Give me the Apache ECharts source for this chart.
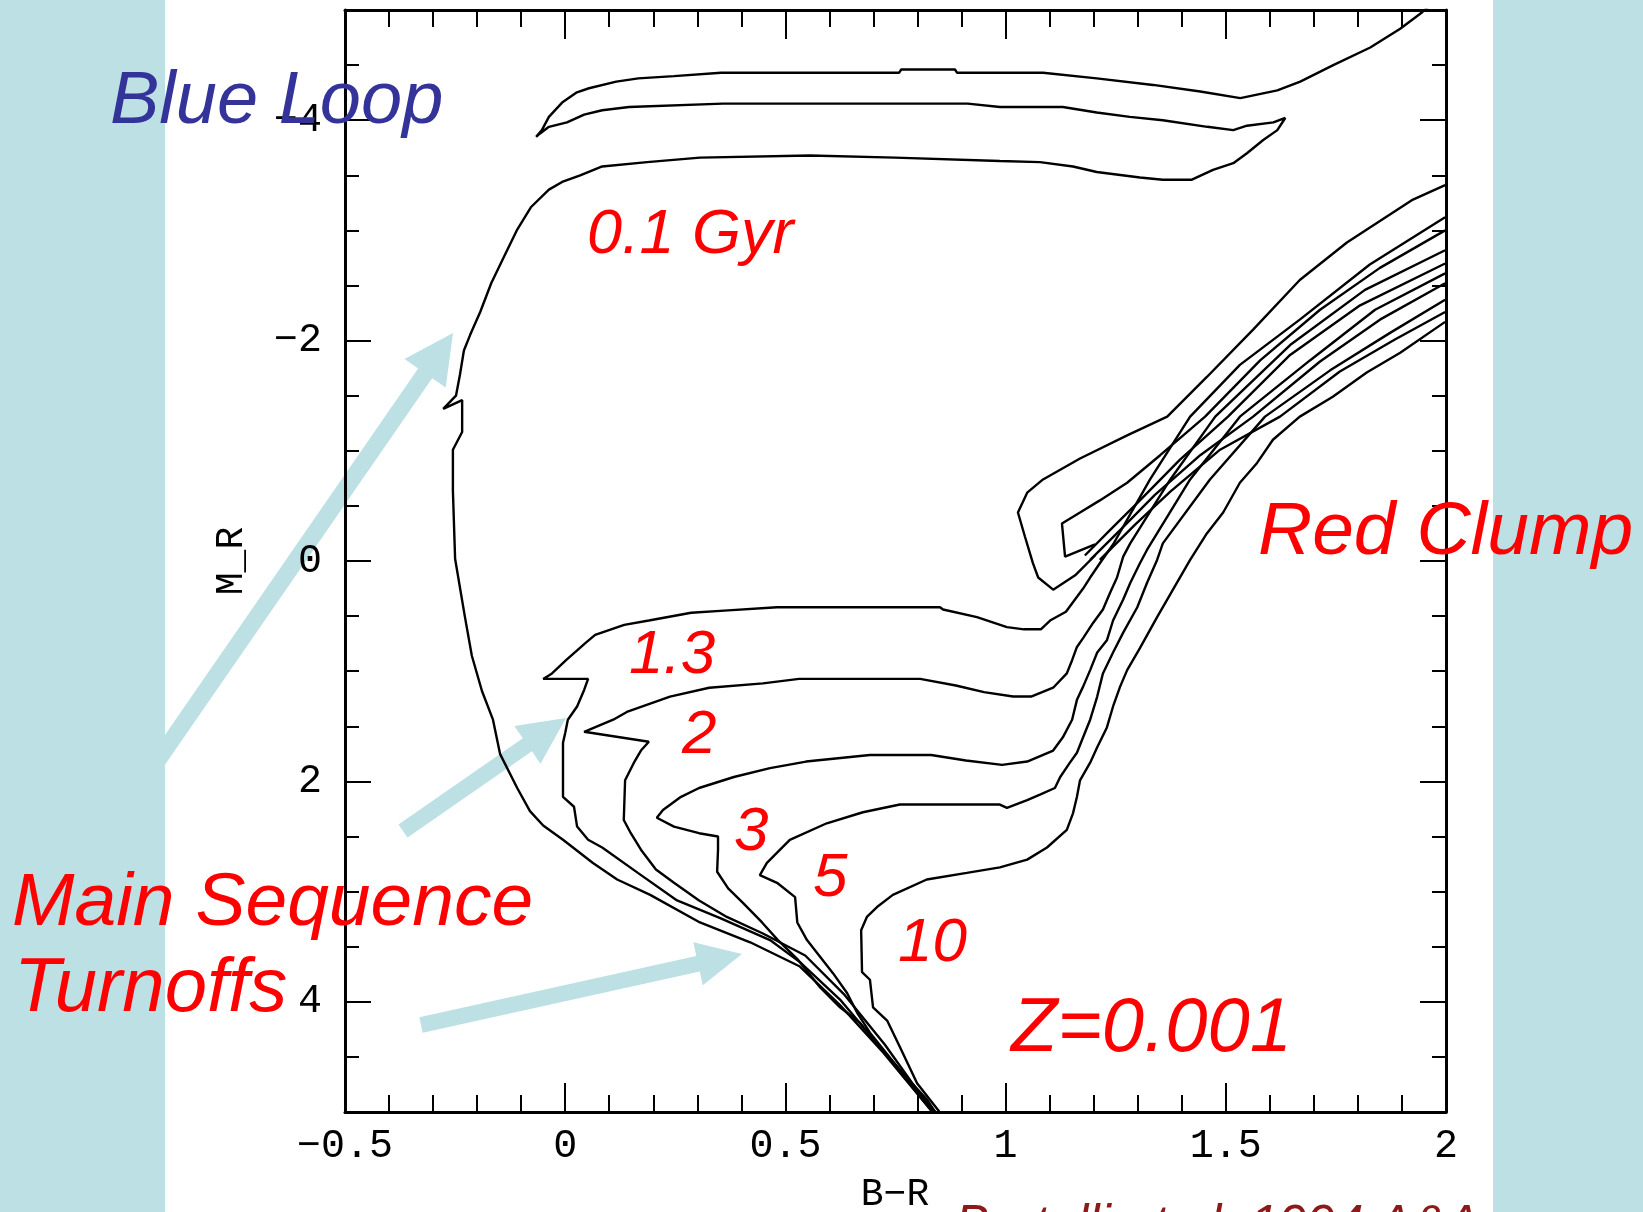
<!DOCTYPE html>
<html><head><meta charset="utf-8">
<script src="https://cdn.jsdelivr.net/npm/echarts@6/dist/echarts.min.js"></script>
<style>html,body{margin:0;padding:0;background:#bce0e3}#c{width:1643px;height:1212px}</style>
</head><body><div id="c"></div>
<script>
// ---- data (B-R colour, M_R magnitude) ----
const ages = ['0.1 Gyr', '1.3', '2', '3', '5', '10'];
const xTickValues = [-0.5, 0, 0.5, 1, 1.5, 2];
const yTickValues = [-4, -2, 0, 2, 4];

const iso01 = [[0.84,5.03],[0.722,4.46],[0.624,4.03],[0.533,3.68],[0.42,3.46],[0.306,3.28],[0.193,3.03],[0.118,2.89],[0.063,2.74],[-0.005,2.53],[-0.05,2.40],[-0.08,2.27],[-0.109,2.06],[-0.148,1.75],[-0.164,1.44],[-0.189,1.18],[-0.212,0.86],[-0.228,0.50],[-0.25,-0.02],[-0.255,-0.64],[-0.255,-1.01],[-0.234,-1.17],[-0.234,-1.46],[-0.277,-1.38],[-0.248,-1.50],[-0.239,-1.69],[-0.23,-1.91],[-0.216,-2.05],[-0.193,-2.26],[-0.168,-2.52],[-0.139,-2.76],[-0.11,-3.0],[-0.078,-3.21],[-0.037,-3.37],[-0.007,-3.44],[0.034,-3.50],[0.084,-3.58],[0.186,-3.62],[0.306,-3.66],[0.556,-3.68],[0.749,-3.66],[0.987,-3.63],[1.078,-3.62],[1.153,-3.58],[1.207,-3.53],[1.305,-3.48],[1.357,-3.46],[1.423,-3.46],[1.471,-3.55],[1.517,-3.61],[1.548,-3.70],[1.585,-3.82],[1.617,-3.91],[1.635,-4.02],[1.608,-3.98],[1.548,-3.95],[1.517,-3.91],[1.458,-3.94],[1.357,-4.0],[1.282,-4.03],[1.207,-4.07],[1.13,-4.12],[0.987,-4.12],[0.914,-4.15],[0.358,-4.15],[0.145,-4.12],[0.084,-4.09],[0.043,-4.05],[0.004,-3.98],[-0.037,-3.94],[-0.057,-3.88],[-0.066,-3.85],[-0.053,-3.91],[-0.037,-4.03],[-0.007,-4.16],[0.025,-4.25],[0.054,-4.29],[0.116,-4.35],[0.166,-4.38],[0.247,-4.40],[0.354,-4.43],[0.758,-4.43],[0.763,-4.46],[0.885,-4.46],[0.89,-4.43],[1.085,-4.43],[1.207,-4.38],[1.335,-4.32],[1.442,-4.26],[1.533,-4.20],[1.617,-4.27],[1.669,-4.35],[1.744,-4.50],[1.828,-4.66],[1.896,-4.83],[1.946,-4.98],[1.968,-5.06]];

const iso13 = [[0.84,5.03],[0.721,4.44],[0.624,3.98],[0.533,3.64],[0.465,3.44],[0.352,3.24],[0.254,3.08],[0.165,2.83],[0.084,2.60],[0.052,2.53],[0.027,2.41],[0.02,2.23],[-0.005,2.14],[-0.005,1.65],[0.0,1.56],[0.006,1.44],[0.027,1.32],[0.043,1.17],[0.052,1.07],[-0.05,1.07],[-0.03,1.02],[0.002,0.90],[0.047,0.74],[0.068,0.67],[0.134,0.58],[0.19,0.54],[0.286,0.47],[0.361,0.45],[0.481,0.42],[0.708,0.42],[0.851,0.42],[0.858,0.44],[0.935,0.51],[1.003,0.60],[1.042,0.62],[1.08,0.62],[1.101,0.54],[1.137,0.46],[1.176,0.25],[1.192,0.15],[1.214,0.02],[1.23,-0.07],[1.244,-0.15],[1.328,-0.74],[1.419,-1.31],[1.532,-1.78],[1.668,-2.19],[1.827,-2.69],[1.998,-3.12]];
const clump13 = [[1.203,-0.05],[1.158,0.13],[1.108,0.26],[1.074,0.15],[1.062,0.02],[1.044,-0.22],[1.028,-0.44],[1.049,-0.62],[1.085,-0.74],[1.169,-0.93],[1.276,-1.14],[1.367,-1.31],[1.457,-1.67],[1.562,-2.10],[1.668,-2.55],[1.775,-2.89],[1.925,-3.28],[1.998,-3.41]];

const iso2 = [[0.84,5.03],[0.726,4.39],[0.635,3.94],[0.545,3.58],[0.449,3.38],[0.367,3.23],[0.304,3.08],[0.247,2.92],[0.206,2.80],[0.172,2.62],[0.149,2.47],[0.133,2.35],[0.136,1.99],[0.156,1.83],[0.172,1.72],[0.19,1.64],[0.043,1.55],[0.109,1.44],[0.14,1.37],[0.238,1.23],[0.327,1.15],[0.449,1.11],[0.531,1.07],[0.806,1.07],[0.887,1.13],[0.951,1.19],[1.017,1.23],[1.058,1.23],[1.108,1.15],[1.139,1.02],[1.151,0.90],[1.162,0.78],[1.176,0.70],[1.199,0.56],[1.221,0.44],[1.237,0.29],[1.253,0.15],[1.267,-0.04],[1.283,-0.16],[1.374,-0.74],[1.476,-1.31],[1.646,-1.96],[1.816,-2.46],[1.998,-2.82]];
const clump2 = [[1.203,-0.15],[1.135,-0.04],[1.128,-0.34],[1.169,-0.44],[1.214,-0.55],[1.276,-0.71],[1.351,-0.96],[1.453,-1.31],[1.578,-1.82],[1.714,-2.28],[1.85,-2.66],[1.998,-3.0]];

const iso3 = [[0.845,5.03],[0.822,4.89],[0.76,4.62],[0.715,4.41],[0.669,4.19],[0.624,4.05],[0.579,3.87],[0.529,3.62],[0.483,3.44],[0.447,3.28],[0.403,3.10],[0.37,2.97],[0.345,2.82],[0.347,2.62],[0.347,2.50],[0.304,2.47],[0.247,2.41],[0.208,2.33],[0.222,2.26],[0.263,2.14],[0.304,2.06],[0.383,1.96],[0.465,1.88],[0.547,1.82],[0.692,1.76],[0.831,1.76],[0.91,1.81],[0.992,1.85],[1.049,1.82],[1.108,1.72],[1.13,1.60],[1.151,1.44],[1.162,1.26],[1.176,1.14],[1.192,0.99],[1.208,0.83],[1.23,0.72],[1.244,0.54],[1.267,0.35],[1.283,0.20],[1.305,0.02],[1.321,-0.10],[1.419,-0.74],[1.532,-1.31],[1.691,-1.82],[1.839,-2.28],[1.998,-2.61]];
const clump3 = [[1.18,-0.05],[1.237,-0.28],[1.305,-0.55],[1.396,-0.92],[1.505,-1.31],[1.646,-1.87],[1.805,-2.32],[1.998,-2.70]];

const iso5 = [[0.847,5.03],[0.783,4.73],[0.738,4.51],[0.692,4.28],[0.663,4.10],[0.64,3.92],[0.608,3.74],[0.549,3.44],[0.527,3.28],[0.522,3.05],[0.481,2.92],[0.442,2.85],[0.458,2.74],[0.51,2.53],[0.594,2.38],[0.676,2.28],[0.76,2.21],[0.987,2.21],[1.003,2.24],[1.049,2.17],[1.078,2.12],[1.112,2.06],[1.124,1.96],[1.146,1.83],[1.162,1.74],[1.176,1.60],[1.192,1.44],[1.208,1.23],[1.221,1.02],[1.244,0.83],[1.267,0.65],[1.299,0.42],[1.321,0.20],[1.344,-0.01],[1.357,-0.16],[1.464,-0.74],[1.589,-1.31],[1.737,-1.73],[1.873,-2.07],[1.998,-2.37]];
const clump5 = [[1.192,-0.01],[1.26,-0.28],[1.339,-0.60],[1.442,-0.96],[1.562,-1.31],[1.714,-1.81],[1.85,-2.19],[1.998,-2.52]];

const iso10 = [[0.856,5.03],[0.799,4.74],[0.76,4.41],[0.731,4.17],[0.699,4.05],[0.692,3.80],[0.674,3.73],[0.672,3.35],[0.685,3.23],[0.708,3.14],[0.744,3.03],[0.821,2.89],[0.912,2.83],[0.987,2.78],[1.049,2.71],[1.094,2.60],[1.139,2.44],[1.153,2.29],[1.162,2.14],[1.169,1.99],[1.192,1.83],[1.208,1.69],[1.23,1.51],[1.244,1.32],[1.26,1.14],[1.276,0.99],[1.305,0.79],[1.344,0.51],[1.38,0.26],[1.419,-0.01],[1.457,-0.25],[1.494,-0.44],[1.532,-0.71],[1.571,-0.89],[1.607,-1.10],[1.668,-1.31],[1.743,-1.49],[1.82,-1.71],[1.896,-1.89],[1.998,-2.17]];
const clump10 = [[1.214,-0.01],[1.294,-0.33],[1.374,-0.63],[1.487,-1.01],[1.623,-1.31],[1.759,-1.72],[1.884,-2.01],[1.998,-2.26]];

const tracks = [iso01, iso13, clump13, iso2, clump2, iso3, clump3, iso5, clump5, iso10, clump10];

// ---- chart ----
const chart = echarts.init(document.getElementById('c'), null, {renderer: 'canvas'});
const tickFont = {fontFamily: 'Liberation Mono', fontSize: 40, color: '#000'};
const minus = v => (v < 0 ? '\u2212' + String(-v) : String(v));

function xAx(pos, labels) {
  return {
    type: 'value', position: pos, min: -0.5, max: 2, interval: 0.5,
    axisLine: {show: true, onZero: false, lineStyle: {color: '#000', width: 3}},
    axisTick: {show: true, inside: true, length: 29, lineStyle: {color: '#000', width: 2}},
    minorTick: {show: true, splitNumber: 5, length: 17, lineStyle: {color: '#000', width: 2}},
    axisLabel: labels ? Object.assign({show: true, margin: 14, formatter: minus}, tickFont) : {show: false},
    splitLine: {show: false}, minorSplitLine: {show: false}
  };
}
function yShort(pos) {
  return {
    type: 'value', position: pos, min: -5, max: 5, interval: 0.5, inverse: true,
    axisLine: {show: true, onZero: false, lineStyle: {color: '#000', width: 3}},
    axisTick: {show: true, inside: true, length: 14, lineStyle: {color: '#000', width: 2}},
    axisLabel: {show: false}, splitLine: {show: false}
  };
}
function yLong(pos, labels) {
  return {
    type: 'value', position: pos, min: -5, max: 5, interval: 0.5, inverse: true,
    axisLine: {show: false, onZero: false},
    axisTick: {show: true, inside: true, length: 26, customValues: yTickValues, lineStyle: {color: '#000', width: 2}},
    axisLabel: labels ? Object.assign({show: true, margin: 23, customValues: yTickValues, formatter: minus}, tickFont) : {show: false},
    splitLine: {show: false}
  };
}

function arrow(tx, ty, px, py, w, hl, hw) {
  const dx = px - tx, dy = py - ty, L = Math.hypot(dx, dy);
  const ux = dx / L, uy = dy / L, nx = -uy, ny = ux;
  const bx = px - ux * hl, by = py - uy * hl;
  return [[tx + nx * w, ty + ny * w], [bx + nx * w, by + ny * w], [bx + nx * hw, by + ny * hw], [px, py],
          [bx - nx * hw, by - ny * hw], [bx - nx * w, by - ny * w], [tx - nx * w, ty - ny * w]];
}
const arrowColor = '#bce0e3';
function txt(text, x, y, size, color, italic) {
  return {type: 'text', z: 60, silent: true,
    style: {text: text, x: x, y: y, fill: color, align: 'left', verticalAlign: 'middle',
      font: (italic ? 'italic ' : '') + size + "px 'Liberation Sans', Arial, sans-serif"}};
}

const option = {
  animation: false,
  backgroundColor: '#bce0e3',
  grid: {left: 345, right: 197, top: 10, bottom: 100, containLabel: false},
  xAxis: [xAx('bottom', true), xAx('top', false)],
  yAxis: [yShort('left'), yLong('left', true), yShort('right'), yLong('right', false)],
  series: tracks.map(d => ({
    type: 'line', data: d, xAxisIndex: 0, yAxisIndex: 0, showSymbol: false, symbol: 'none',
    silent: true, z: 3, clip: true, lineStyle: {color: '#000', width: 2.4}
  })),
  graphic: [
    {type: 'rect', z: -2, silent: true, shape: {x: 165, y: 0, width: 1328, height: 1212}, style: {fill: '#fff'}},
    {type: 'polygon', z: -1, silent: true, shape: {points: arrow(140, 786, 453, 333, 8.5, 49, 25)}, style: {fill: arrowColor}},
    {type: 'polygon', z: -1, silent: true, shape: {points: arrow(403, 831, 566, 718, 8, 47, 23)}, style: {fill: arrowColor}},
    {type: 'polygon', z: -1, silent: true, shape: {points: arrow(421, 1025, 742, 954, 8, 45, 22)}, style: {fill: arrowColor}},
    txt('Blue Loop', 110, 102, 74, '#333399', true),
    txt(ages[0], 587, 235, 63, '#ff0000', true),
    txt(ages[1], 629, 656, 62, '#ff0000', true),
    txt(ages[2], 682, 736, 62, '#ff0000', true),
    txt(ages[3], 734, 833, 62, '#ff0000', true),
    txt(ages[4], 813, 879, 62, '#ff0000', true),
    txt(ages[5], 898, 944, 62, '#ff0000', true),
    txt('Red Clump', 1258, 533, 75, '#ff0000', true),
    txt('Main Sequence', 12, 904, 75, '#ff0000', true),
    txt('Turnoffs', 14, 990, 76, '#ff0000', true),
    txt('Z=0.001', 1011, 1030, 76, '#ff0000', true),
    {type: 'text', z: 60, silent: true, style: {text: 'Bertelli et al. 1994 A&A', x: 955, y: 1201, fill: '#8b1a1a',
      align: 'left', verticalAlign: 'top', font: "italic 51px 'Liberation Sans', Arial, sans-serif"}},
    {type: 'text', z: 60, silent: true, style: {text: 'B\u2212R', x: 895, y: 1195, fill: '#000', align: 'center',
      verticalAlign: 'middle', font: "38px 'Liberation Mono', monospace"}},
    {type: 'text', z: 60, silent: true, x: 232, y: 561, rotation: Math.PI / 2,
      style: {text: 'M_R', x: 0, y: 0, fill: '#000', align: 'center', verticalAlign: 'middle', font: "38px 'Liberation Mono', monospace"}}
  ]
};
chart.setOption(option);
</script>
</body></html>
